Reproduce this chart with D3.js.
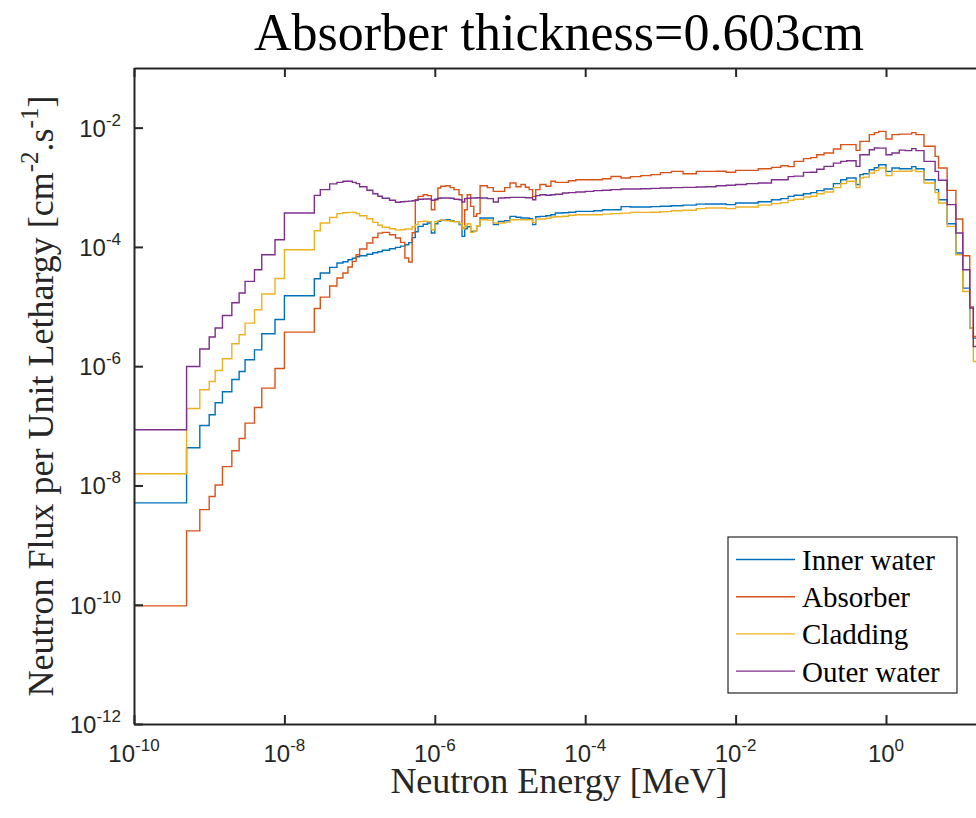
<!DOCTYPE html>
<html>
<head>
<meta charset="utf-8">
<script src="https://cdn.jsdelivr.net/npm/d3@7"></script>
<style>
  body { margin: 0; background: #fff; }
  svg { display: block; overflow: hidden; }
</style>
</head>
<body>
<div id="chart"></div>
<script>
// group boundaries [MeV], one more than the flux values
const energyEdges = [1e-11, 5e-10, 7.5e-10, 1e-9, 1.2e-9, 1.5e-9, 2e-9, 2.5e-9, 3e-9, 4e-9, 5e-9, 7.5e-9,
  1e-8, 2.5e-8, 3e-8, 4e-8, 5e-8, 6e-8, 7e-8, 8e-8, 9e-8,
  1e-7, 1.25e-7, 1.5e-7, 1.75e-7, 2e-7, 2.5e-7, 3e-7, 3.5e-7, 4e-7, 4.5e-7, 5e-7, 5.5e-7, 6e-7, 7e-7, 8e-7, 9e-7,
  1e-6, 1.1e-6, 1.2e-6, 1.4e-6, 1.6e-6, 1.8e-6, 2.1e-6, 2.3e-6, 2.5e-6, 2.7e-6, 3e-6, 3.3e-6, 3.6e-6, 4e-6, 5e-6, 6e-6, 7e-6, 8.5e-6,
  1e-5, 1.2e-5, 1.4e-5, 1.6e-5, 1.8e-5, 2e-5, 2.2e-5, 2.5e-5, 3e-5, 3.5e-5, 4e-5, 5e-5, 6e-5, 7.5e-5,
  1e-4, 1.3e-4, 1.7e-4, 2.2e-4, 3e-4, 4e-4, 5.5e-4, 7.5e-4,
  1e-3, 1.4e-3, 2e-3, 3e-3, 4e-3, 5.5e-3, 7.5e-3,
  1e-2, 1.4e-2, 2e-2, 3e-2, 4e-2, 5e-2, 6e-2, 8e-2,
  0.1, 0.12, 0.15, 0.2, 0.25, 0.3, 0.35, 0.4, 0.45, 0.5, 0.6, 0.7, 0.8,
  1, 1.2, 1.5, 1.8, 2.2, 2.5, 3.2, 4.5, 5, 6.5, 8.5, 10.5, 13, 14.5, 20];

const innerWater = [5.11e-9, 4.28e-8, 1.01e-7, 1.53e-7, 2.43e-7, 3.72e-7, 5.98e-7, 8.15e-7, 1.28e-6, 1.88e-6, 3.50e-6, 6.08e-6,
  1.52e-5, 2.93e-5, 3.65e-5, 4.53e-5, 5.37e-5, 5.65e-5, 6.10e-5, 6.46e-5, 6.85e-5,
  7.12e-5, 7.55e-5, 7.99e-5, 8.30e-5, 8.80e-5, 9.33e-5, 9.81e-5, 1.03e-4, 1.09e-4, 1.18e-4, 1.43e-4, 1.80e-4, 2.21e-4, 2.40e-4, 2.52e-4, 1.71e-4,
  2.45e-4, 2.68e-4, 2.81e-4, 2.86e-4, 2.75e-4, 2.65e-4, 2.36e-4, 1.50e-4, 2.02e-4, 2.18e-4, 1.82e-4, 1.87e-4, 2.27e-4, 3.05e-4, 3.05e-4, 2.36e-4, 2.68e-4, 2.75e-4,
  3.25e-4, 3.15e-4, 3.05e-4, 3.05e-4, 2.97e-4, 2.36e-4, 3.21e-4, 3.25e-4, 3.34e-4, 3.47e-4, 3.71e-4, 3.75e-4, 3.82e-4, 3.94e-4,
  3.94e-4, 4.05e-4, 4.21e-4, 4.21e-4, 4.73e-4, 4.67e-4, 4.67e-4, 4.73e-4,
  4.82e-4, 4.91e-4, 5.01e-4, 5.21e-4, 5.25e-4, 5.25e-4, 5.11e-4,
  5.45e-4, 5.45e-4, 5.73e-4, 6.19e-4, 6.44e-4, 7.04e-4, 7.37e-4, 7.81e-4,
  8.12e-4, 8.77e-4, 9.36e-4, 1.15e-3, 1.34e-3, 1.43e-3, 1.43e-3, 1.11e-3, 1.63e-3, 1.69e-3, 1.97e-3, 2.13e-3, 2.39e-3,
  1.85e-3, 2.11e-3, 2.05e-3, 2.05e-3, 2.22e-3, 2.05e-3, 1.34e-3, 9.12e-4, 6.19e-4, 2.45e-4, 7.90e-5, 2.04e-5, 4.36e-6, 2.96e-6];

const absorber = [9.55e-11, 1.73e-9, 3.94e-9, 6.51e-9, 1.02e-8, 2.07e-8, 3.81e-8, 6.12e-8, 1.11e-7, 2.03e-7, 4.29e-7, 9.15e-7,
  3.73e-6, 9.30e-6, 1.44e-5, 2.21e-5, 3.01e-5, 3.65e-5, 4.60e-5, 5.71e-5, 7.40e-5,
  9.22e-5, 1.16e-4, 1.44e-4, 1.70e-4, 1.75e-4, 1.60e-4, 1.41e-4, 1.19e-4, 6.51e-5, 5.58e-5, 1.73e-4, 6.19e-4, 7.04e-4, 7.51e-4, 7.23e-4, 4.21e-4,
  6.19e-4, 9.73e-4, 1.04e-3, 1.06e-3, 9.85e-4, 9.12e-4, 7.51e-4, 2.08e-4, 4.21e-4, 7.51e-4, 4.78e-4, 3.25e-4, 3.61e-4, 1.06e-3, 9.85e-4, 8.54e-4, 8.54e-4, 9.85e-4,
  1.18e-3, 1.02e-3, 1.11e-3, 1.00e-3, 9.12e-4, 7.04e-4, 9.12e-4, 1.11e-3, 1.04e-3, 1.26e-3, 1.21e-3, 1.21e-3, 1.29e-3, 1.34e-3,
  1.34e-3, 1.34e-3, 1.39e-3, 1.52e-3, 1.43e-3, 1.51e-3, 1.57e-3, 1.63e-3,
  1.76e-3, 1.85e-3, 1.69e-3, 1.85e-3, 1.85e-3, 1.86e-3, 1.79e-3,
  1.92e-3, 1.92e-3, 2.05e-3, 2.16e-3, 2.30e-3, 2.22e-3, 2.72e-3, 3.02e-3,
  3.14e-3, 3.52e-3, 3.76e-3, 4.39e-3, 5.19e-3, 5.19e-3, 5.19e-3, 4.16e-3, 5.89e-3, 5.89e-3, 7.63e-3, 8.24e-3, 8.67e-3,
  6.46e-3, 7.63e-3, 7.78e-3, 7.78e-3, 8.24e-3, 7.63e-3, 4.86e-3, 3.30e-3, 2.11e-3, 8.87e-4, 2.94e-4, 7.12e-5, 9.81e-6, 3.15e-6];

const cladding = [1.57e-8, 1.95e-7, 4.02e-7, 5.54e-7, 8.47e-7, 1.33e-6, 2.38e-6, 3.36e-6, 5.28e-6, 8.84e-6, 1.62e-5, 2.96e-5,
  8.97e-5, 1.87e-4, 2.52e-4, 3.11e-4, 3.61e-4, 3.75e-4, 3.79e-4, 3.79e-4, 3.61e-4,
  3.34e-4, 2.97e-4, 2.58e-4, 2.31e-4, 2.14e-4, 2.02e-4, 1.91e-4, 1.94e-4, 2.00e-4, 2.00e-4, 2.18e-4, 2.36e-4, 2.65e-4, 2.70e-4, 2.65e-4, 1.94e-4,
  2.65e-4, 2.79e-4, 2.81e-4, 2.75e-4, 2.70e-4, 2.65e-4, 2.45e-4, 2.02e-4, 2.27e-4, 2.45e-4, 1.75e-4, 1.87e-4, 2.27e-4, 2.86e-4, 2.81e-4, 2.52e-4, 2.52e-4, 2.60e-4,
  2.86e-4, 2.86e-4, 2.86e-4, 2.86e-4, 2.86e-4, 2.55e-4, 2.92e-4, 2.94e-4, 3.03e-4, 3.17e-4, 3.21e-4, 3.27e-4, 3.40e-4, 3.47e-4,
  3.47e-4, 3.47e-4, 3.54e-4, 3.61e-4, 3.68e-4, 3.79e-4, 3.79e-4, 3.82e-4,
  3.90e-4, 4.05e-4, 4.13e-4, 4.38e-4, 4.50e-4, 4.50e-4, 4.38e-4,
  4.67e-4, 4.67e-4, 5.01e-4, 5.31e-4, 5.52e-4, 6.03e-4, 6.31e-4, 6.88e-4,
  7.09e-4, 7.81e-4, 8.34e-4, 9.85e-4, 1.15e-3, 1.26e-3, 1.26e-3, 9.85e-4, 1.43e-3, 1.48e-3, 1.74e-3, 1.90e-3, 2.11e-3,
  1.57e-3, 1.85e-3, 1.86e-3, 1.86e-3, 1.94e-3, 1.83e-3, 1.18e-3, 8.12e-4, 5.45e-4, 2.21e-4, 7.40e-5, 1.79e-5, 4.36e-6, 1.20e-6];

const outerWater = [8.57e-8, 9.89e-7, 1.94e-6, 3.08e-6, 4.36e-6, 7.09e-6, 1.16e-5, 1.69e-5, 2.64e-5, 4.14e-5, 7.40e-5, 1.32e-4,
  3.71e-4, 7.31e-4, 9.12e-4, 1.14e-3, 1.21e-3, 1.26e-3, 1.26e-3, 1.21e-3, 1.15e-3,
  1.02e-3, 8.94e-4, 7.81e-4, 7.09e-4, 6.56e-4, 6.07e-4, 5.62e-4, 5.73e-4, 5.80e-4, 5.85e-4, 5.96e-4, 6.07e-4, 6.31e-4, 6.36e-4, 6.36e-4, 6.07e-4,
  6.31e-4, 6.56e-4, 6.61e-4, 6.61e-4, 6.56e-4, 6.31e-4, 6.19e-4, 5.67e-4, 6.44e-4, 6.56e-4, 6.61e-4, 6.61e-4, 6.69e-4, 6.61e-4, 6.44e-4, 5.67e-4, 6.61e-4, 6.69e-4,
  6.77e-4, 6.77e-4, 6.77e-4, 6.69e-4, 6.69e-4, 6.19e-4, 7.23e-4, 7.51e-4, 7.37e-4, 7.51e-4, 7.66e-4, 8.02e-4, 8.12e-4, 8.34e-4,
  8.54e-4, 8.77e-4, 8.94e-4, 9.12e-4, 9.36e-4, 9.36e-4, 9.47e-4, 9.58e-4,
  9.73e-4, 9.85e-4, 9.96e-4, 1.01e-3, 1.02e-3, 1.06e-3, 1.08e-3,
  1.11e-3, 1.15e-3, 1.18e-3, 1.34e-3, 1.34e-3, 1.51e-3, 1.54e-3, 1.78e-3,
  1.79e-3, 2.01e-3, 2.24e-3, 2.54e-3, 2.72e-3, 2.79e-3, 2.79e-3, 2.24e-3, 3.52e-3, 3.52e-3, 4.27e-3, 4.56e-3, 4.53e-3,
  3.52e-3, 3.76e-3, 4.19e-3, 4.11e-3, 4.44e-3, 4.11e-3, 2.72e-3, 1.85e-3, 1.31e-3, 5.11e-4, 1.71e-4, 4.14e-5, 9.44e-6, 2.14e-6];

const seriesNames = ["Inner water", "Absorber", "Cladding", "Outer water"];
const seriesValues = [innerWater, absorber, cladding, outerWater];
const xTicks = [1e-10, 1e-8, 1e-6, 1e-4, 1e-2, 1e0];
const yTicks = [1e-12, 1e-10, 1e-8, 1e-6, 1e-4, 1e-2];

// matlab default colour order
const colors = ["#0072BD", "#D95319", "#EDB120", "#7E2F8E"];
const axisColor = "#262626";

var width = 976, height = 818;
// the axes run past the right edge of the picture (cropped figure)
var plot = {left: 134, right: 1036.4, top: 68, bottom: 724};
var tickLen = 9;

var svg = d3.select("#chart")
    .append("svg")
    .attr("width", width)
    .attr("height", height);

var x = d3.scaleLog()
    .domain([1e-10, 100])
    .range([plot.left, plot.right]);
var y = d3.scaleLog()
    .domain([1e-12, 1e-1])
    .range([plot.bottom, plot.top]);

svg.append("defs").append("clipPath")
    .attr("id", "plotClip")
    .append("rect")
    .attr("x", plot.left)
    .attr("y", plot.top)
    .attr("width", plot.right - plot.left)
    .attr("height", plot.bottom - plot.top);

// stairs: value i holds from edge i to edge i+1
function stairs(values) {
    var n = Math.min(values.length, energyEdges.length - 1);
    var pts = [];
    for (let i = 0; i < n; i++) pts.push([energyEdges[i], values[i]]);
    pts.push([energyEdges[n], values[n - 1]]);
    return pts;
}

var line = d3.line()
    .x(d => x(d[0]))
    .y(d => y(d[1]))
    .curve(d3.curveStepAfter);

svg.append("g")
    .attr("clip-path", "url(#plotClip)")
    .selectAll("path")
    .data(seriesValues)
    .enter()
    .append("path")
    .attr("fill", "none")
    .attr("stroke", (d, i) => colors[i])
    .attr("stroke-width", 1.4)
    .attr("d", d => line(stairs(d)));

// axes, ticks pointing inward like matlab
function styleAxis(g) {
    g.select(".domain").attr("stroke", axisColor).attr("stroke-width", 2);
    g.selectAll(".tick line").attr("stroke", axisColor).attr("stroke-width", 2);
}

svg.append("g")
    .attr("transform", `translate(0, ${plot.bottom})`)
    .call(d3.axisBottom(x).tickValues(xTicks).tickSizeInner(-tickLen).tickSizeOuter(0).tickFormat(""))
    .call(styleAxis);
svg.append("g")
    .attr("transform", `translate(0, ${plot.top})`)
    .call(d3.axisTop(x).tickValues(xTicks).tickSizeInner(-tickLen).tickSizeOuter(0).tickFormat(""))
    .call(styleAxis);
svg.append("g")
    .attr("transform", `translate(${plot.left}, 0)`)
    .call(d3.axisLeft(y).tickValues(yTicks).tickSizeInner(-tickLen).tickSizeOuter(0).tickFormat(""))
    .call(styleAxis);
svg.append("g")
    .attr("transform", `translate(${plot.right}, 0)`)
    .call(d3.axisRight(y).tickValues(yTicks).tickSizeInner(-tickLen).tickSizeOuter(0).tickFormat(""))
    .call(styleAxis);

// tick labels as 10^n
function powerLabel(sel, v) {
    var e = Math.round(Math.log10(v));
    sel.append("tspan").text("10");
    sel.append("tspan").attr("font-size", 17).attr("dy", -11).text(e);
}

svg.append("g")
    .selectAll("text")
    .data(xTicks)
    .enter()
    .append("text")
    .attr("x", d => x(d))
    .attr("y", 762)
    .attr("text-anchor", "middle")
    .attr("font-family", "'Liberation Sans', Arial, sans-serif")
    .attr("font-size", 24)
    .attr("fill", axisColor)
    .each(function(d) { powerLabel(d3.select(this), d); });

svg.append("g")
    .selectAll("text")
    .data(yTicks)
    .enter()
    .append("text")
    .attr("x", plot.left - 13)
    .attr("y", d => y(d) + 9)
    .attr("text-anchor", "end")
    .attr("font-family", "'Liberation Sans', Arial, sans-serif")
    .attr("font-size", 24)
    .attr("fill", axisColor)
    .each(function(d) { powerLabel(d3.select(this), d); });

// title and axis labels, centred on the visible axes
const serif = "'Liberation Serif', 'Times New Roman', serif";
var midX = 559;
svg.append("text")
    .attr("x", midX)
    .attr("y", 50)
    .attr("text-anchor", "middle")
    .attr("font-family", serif)
    .attr("font-size", 52)
    .attr("fill", "#000")
    .text("Absorber thickness=0.603cm");

svg.append("text")
    .attr("x", midX)
    .attr("y", 793)
    .attr("text-anchor", "middle")
    .attr("font-family", serif)
    .attr("font-size", 36)
    .attr("fill", axisColor)
    .text("Neutron Energy [MeV]");

var ylab = svg.append("text")
    .attr("transform", `translate(53, ${(plot.top + plot.bottom) / 2}) rotate(-90)`)
    .attr("text-anchor", "middle")
    .attr("font-family", serif)
    .attr("font-size", 36)
    .attr("fill", axisColor);
ylab.append("tspan").text("Neutron Flux per Unit Lethargy [cm");
ylab.append("tspan").attr("font-size", 25).attr("dy", -15).text("-2");
ylab.append("tspan").attr("dy", 15).text(".s");
ylab.append("tspan").attr("font-size", 25).attr("dy", -15).text("-1");
ylab.append("tspan").attr("dy", 15).text("]");

// legend
var legend = svg.append("g")
    .attr("transform", "translate(728, 537)");
legend.append("rect")
    .attr("width", 229)
    .attr("height", 156)
    .attr("fill", "#fff")
    .attr("stroke", axisColor)
    .attr("stroke-width", 1.2);

var rows = legend.selectAll("g.row")
    .data(seriesNames)
    .enter()
    .append("g")
    .attr("class", "row")
    .attr("transform", (d, i) => `translate(0, ${22.5 + i * 37.2})`);
rows.append("line")
    .attr("x1", 8).attr("x2", 67)
    .attr("stroke", (d, i) => colors[i])
    .attr("stroke-width", 1.4);
rows.append("text")
    .attr("x", 74)
    .attr("y", 10.5)
    .attr("font-family", serif)
    .attr("font-size", 29)
    .attr("fill", "#000")
    .text(d => d);
</script>
</body>
</html>
